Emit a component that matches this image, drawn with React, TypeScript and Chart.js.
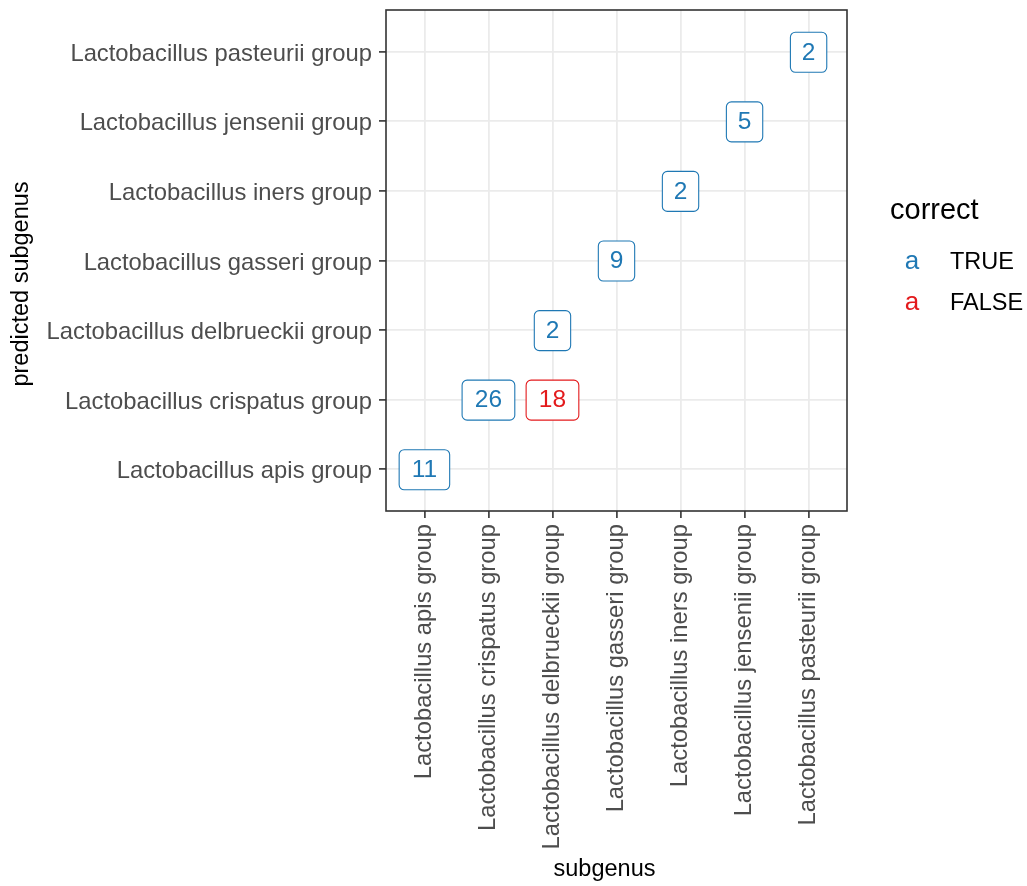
import React, { useEffect, useRef } from "react";
import { Chart, registerables } from "chart.js";

Chart.register(...registerables);

const categories = [
  "Lactobacillus apis group",
  "Lactobacillus crispatus group",
  "Lactobacillus delbrueckii group",
  "Lactobacillus gasseri group",
  "Lactobacillus iners group",
  "Lactobacillus jensenii group",
  "Lactobacillus pasteurii group",
];

// TRUE predictions (actual subgenus, predicted subgenus, count)
const trueActual = [
  "Lactobacillus apis group",
  "Lactobacillus crispatus group",
  "Lactobacillus delbrueckii group",
  "Lactobacillus gasseri group",
  "Lactobacillus iners group",
  "Lactobacillus jensenii group",
  "Lactobacillus pasteurii group",
];
const truePredicted = [
  "Lactobacillus apis group",
  "Lactobacillus crispatus group",
  "Lactobacillus delbrueckii group",
  "Lactobacillus gasseri group",
  "Lactobacillus iners group",
  "Lactobacillus jensenii group",
  "Lactobacillus pasteurii group",
];
const trueCounts = [11, 26, 2, 9, 2, 5, 2];

// FALSE predictions
const falseActual = ["Lactobacillus delbrueckii group"];
const falsePredicted = ["Lactobacillus crispatus group"];
const falseCounts = [18];

const legendTitle = "correct";
const legendLabels = ["TRUE", "FALSE"];
const seriesColors = ["#1F78B4", "#E31A1C"];
const xTitle = "subgenus";
const yTitle = "predicted subgenus";

const FONT = "'Liberation Sans', Arial, Helvetica, sans-serif";

const toPoints = (xs: string[], ys: string[], ns: number[]) =>
  xs.map((x, i) => ({ x: categories.indexOf(x), y: categories.indexOf(ys[i]), n: ns[i] }));

const labelPlugin = {
  id: "boxLabels",
  afterDatasetsDraw(chart: any) {
    const ctx = chart.ctx;
    chart.data.datasets.forEach((ds: any, di: number) => {
      const meta = chart.getDatasetMeta(di);
      meta.data.forEach((el: any, i: number) => {
        const txt = String(ds.data[i].n);
        ctx.save();
        ctx.font = `24.5px ${FONT}`;
        const tw = ctx.measureText(txt).width;
        const w = tw * 1.2 + 20;
        const h = 40;
        const x0 = el.x - w / 2;
        const y0 = el.y - h / 2 + 0.5;
        ctx.beginPath();
        ctx.roundRect(x0, y0, w, h, 5);
        ctx.fillStyle = "#ffffff";
        ctx.fill();
        ctx.lineWidth = 1.1;
        ctx.strokeStyle = ds.color;
        ctx.stroke();
        ctx.fillStyle = ds.color;
        ctx.textAlign = "center";
        ctx.textBaseline = "middle";
        ctx.fillText(txt, el.x, el.y + 1);
        ctx.restore();
      });
    });
  },
};

const decorPlugin = {
  id: "decor",
  afterDraw(chart: any) {
    const ctx = chart.ctx;
    const a = chart.chartArea;
    ctx.save();
    // panel border
    ctx.strokeStyle = "#333333";
    ctx.lineWidth = 1.6;
    ctx.strokeRect(a.left, a.top, a.right - a.left, a.bottom - a.top);
    // axis titles
    ctx.fillStyle = "#000000";
    ctx.font = `23.5px ${FONT}`;
    ctx.textAlign = "center";
    ctx.textBaseline = "middle";
    ctx.fillText(xTitle, (a.left + a.right) / 2 - 12, 870);
    ctx.save();
    ctx.translate(22, 284);
    ctx.rotate(-Math.PI / 2);
    ctx.fillText(yTitle, 0, 0);
    ctx.restore();
    // legend
    ctx.textAlign = "left";
    ctx.textBaseline = "alphabetic";
    ctx.font = `29px ${FONT}`;
    ctx.fillText(legendTitle, 890, 219);
    const rows = [269, 310];
    legendLabels.forEach((lab, i) => {
      ctx.font = `26px ${FONT}`;
      ctx.fillStyle = seriesColors[i];
      ctx.textAlign = "center";
      ctx.fillText("a", 912, rows[i]);
      ctx.font = `23.5px ${FONT}`;
      ctx.fillStyle = "#000000";
      ctx.textAlign = "left";
      ctx.fillText(lab, 950, rows[i]);
    });
    ctx.restore();
  },
};

export default function App() {
  const ref = useRef<HTMLCanvasElement>(null);
  useEffect(() => {
    if (!ref.current) return;
    const axisCommon = {
      type: "linear" as const,
      min: -0.6,
      max: 6.6,
      afterBuildTicks: (scale: any) => {
        scale.ticks = categories.map((_, i) => ({ value: i }));
      },
      grid: {
        color: "#EBEBEB",
        lineWidth: 1.8,
        tickColor: "#333333",
        tickLength: 7,
        tickWidth: 1.6,
        drawTicks: true,
      },
      border: { display: false },
      title: { display: false },
    };
    const chart = new Chart(ref.current, {
      type: "scatter",
      data: {
        datasets: [
          {
            label: legendLabels[0],
            data: toPoints(trueActual, truePredicted, trueCounts),
            pointRadius: 0,
            color: seriesColors[0],
          } as any,
          {
            label: legendLabels[1],
            data: toPoints(falseActual, falsePredicted, falseCounts),
            pointRadius: 0,
            color: seriesColors[1],
          } as any,
        ],
      },
      options: {
        responsive: false,
        animation: false,
        layout: { padding: { left: 0, right: 180, top: 10, bottom: 0 } },
        plugins: { legend: { display: false }, tooltip: { enabled: false } },
        scales: {
          x: {
            ...axisCommon,
            afterFit: (scale: any) => {
              scale.height = 375;
              scale.paddingLeft = 0;
              scale.paddingRight = 0;
            },
            ticks: {
              autoSkip: false,
              maxRotation: 90,
              minRotation: 90,
              padding: 6,
              color: "#4D4D4D",
              font: { size: 23.8, family: FONT },
              callback: (v: any) => categories[v as number],
            },
          },
          y: {
            ...axisCommon,
            afterFit: (scale: any) => {
              scale.width = 386;
              scale.paddingTop = 0;
              scale.paddingBottom = 0;
            },
            ticks: {
              autoSkip: false,
              padding: 7,
              labelOffset: 2.5,
              color: "#4D4D4D",
              font: { size: 23.8, family: FONT },
              callback: (v: any) => categories[v as number],
            },
          },
        },
      } as any,
      plugins: [labelPlugin, decorPlugin],
    });
    return () => chart.destroy();
  }, []);
  return (
    <div style={{ position: "absolute", left: 0, top: 0, width: 1027, height: 886, background: "#fff" }}>
      <canvas ref={ref} width={1027} height={886} />
    </div>
  );
}
